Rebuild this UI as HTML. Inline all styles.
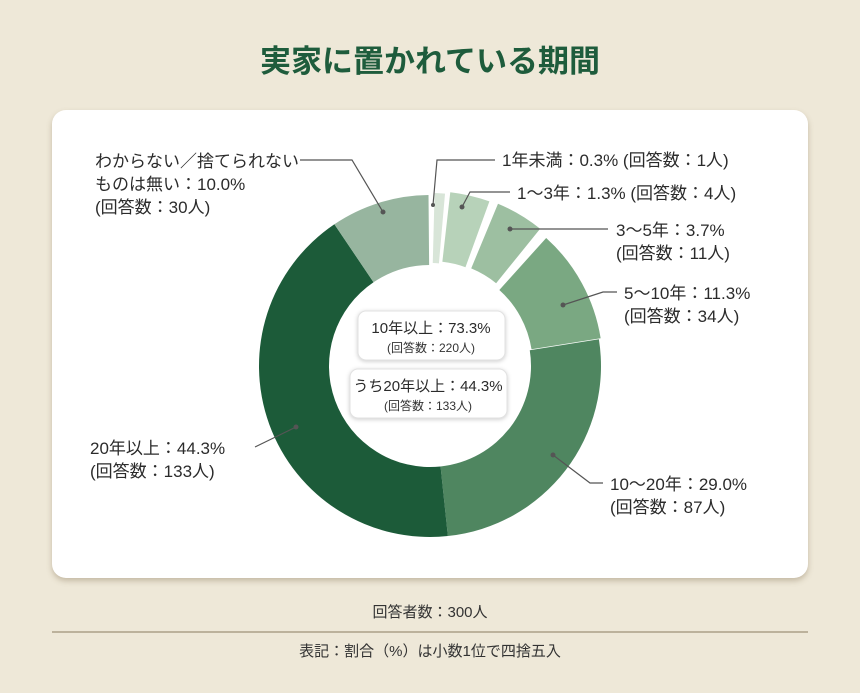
<!DOCTYPE html>
<html><head><meta charset="utf-8">
<style>
html,body{margin:0;padding:0}
body{width:860px;height:693px;background:#eee8d8;position:relative;overflow:hidden;font-family:"Liberation Sans","Noto Sans CJK JP",sans-serif;color:#2b2b2b}
.title{position:absolute;left:0;width:860px;top:36px;text-align:center;font-size:31px;font-weight:bold;color:#1e5c3c}
.card{position:absolute;left:52px;top:110px;width:756px;height:468px;background:#fff;border-radius:14px;box-shadow:0 3px 6px rgba(120,100,70,.35)}
svg{position:absolute;left:0;top:0}
.foot1{position:absolute;left:0;width:860px;top:601px;text-align:center;font-size:15px;color:#333}
.line{position:absolute;left:52px;width:756px;top:631px;height:1.5px;background:#bcb29c}
.foot2{position:absolute;left:0;width:860px;top:640px;text-align:center;font-size:15px;color:#333}
</style></head><body>
<div class="title">実家に置かれている期間</div>
<div class="card"></div>
<svg id="s" width="860" height="693" xmlns="http://www.w3.org/2000/svg" font-family="Liberation Sans, Noto Sans CJK JP, sans-serif">
<g id="donut"></g>
<g stroke="#555" stroke-width="1.2" fill="none">
<polyline points="300,160 352,160 383,212"/>
<polyline points="433,205 437,160 495,160"/>
<polyline points="462,207 470,192 510,192"/>
<polyline points="510,229 608,229"/>
<polyline points="563,305 603,292 617,292"/>
<polyline points="553,455 590,483 603,483"/>
<polyline points="255,447 296,427"/>
</g>
<g fill="#555">
<circle cx="383" cy="212" r="2.5"/><circle cx="433" cy="205" r="2"/><circle cx="462" cy="207" r="2.5"/>
<circle cx="510" cy="229" r="2.5"/><circle cx="563" cy="305" r="2.5"/><circle cx="553" cy="455" r="2.5"/><circle cx="296" cy="427" r="2.5"/>
</g>
<g font-size="17" fill="#2b2b2b">
<text x="95" y="167">わからない／捨てられない</text>
<text x="95" y="190">ものは無い：10.0%</text>
<text x="95" y="213">(回答数：30人)</text>
<text x="502" y="166">1年未満：0.3% (回答数：1人)</text>
<text x="517" y="199">1〜3年：1.3% (回答数：4人)</text>
<text x="616" y="236">3〜5年：3.7%</text>
<text x="616" y="259">(回答数：11人)</text>
<text x="624" y="299">5〜10年：11.3%</text>
<text x="624" y="322">(回答数：34人)</text>
<text x="610" y="490">10〜20年：29.0%</text>
<text x="610" y="513">(回答数：87人)</text>
<text x="90" y="454">20年以上：44.3%</text>
<text x="90" y="477">(回答数：133人)</text>
</g>
<g>
<rect x="358" y="311" width="147" height="49" rx="8" fill="#fff" stroke="#e2e2e2" style="filter:drop-shadow(0 1px 2px rgba(0,0,0,.2))"/>
<text x="431" y="333" text-anchor="middle" font-size="15" fill="#2b2b2b">10年以上：73.3%</text>
<text x="431" y="352" text-anchor="middle" font-size="12" fill="#333">(回答数：220人)</text>
<rect x="350" y="369" width="157" height="49" rx="8" fill="#fff" stroke="#e2e2e2" style="filter:drop-shadow(0 1px 2px rgba(0,0,0,.2))"/>
<text x="428" y="391" text-anchor="middle" font-size="15" fill="#2b2b2b">うち20年以上：44.3%</text>
<text x="428" y="410" text-anchor="middle" font-size="12" fill="#333">(回答数：133人)</text>
</g>
</svg>
<div class="foot1">回答者数：300人</div>
<div class="line"></div>
<div class="foot2">表記：割合（%）は小数1位で四捨五入</div>
<script>
var cx=430,cy=366,R=171,r=101;
// [startDeg,endDeg,color,explode]
var segs=[[1.5,5,"#d8e5d8",2],[6.5,20,"#b7d2b9",4],[22.5,39,"#9dbfa1",5],[42,81,"#7aa882",2],[81,174,"#4f8660",0],[174,326,"#1c5b39",0],[326,359.5,"#97b59f",0]];
var h="";
function pt(rad,ang,ox,oy){return [(cx+ox+rad*Math.sin(ang)).toFixed(2),(cy+oy-rad*Math.cos(ang)).toFixed(2)];}
segs.forEach(function(s){
 var a0=s[0]*Math.PI/180,a1=s[1]*Math.PI/180;
 var m=(a0+a1)/2,ox=s[3]*Math.sin(m),oy=-s[3]*Math.cos(m);
 var lg=(a1-a0)>Math.PI?1:0;
 var p1=pt(R,a0,ox,oy),p2=pt(R,a1,ox,oy),p3=pt(r,a1,ox,oy),p4=pt(r,a0,ox,oy);
 h+='<path d="M'+p1+' A'+R+' '+R+' 0 '+lg+' 1 '+p2+' L'+p3+' A'+r+' '+r+' 0 '+lg+' 0 '+p4+' Z" fill="'+s[2]+'"/>';
});
document.getElementById("donut").innerHTML=h;
</script>
</body></html>
